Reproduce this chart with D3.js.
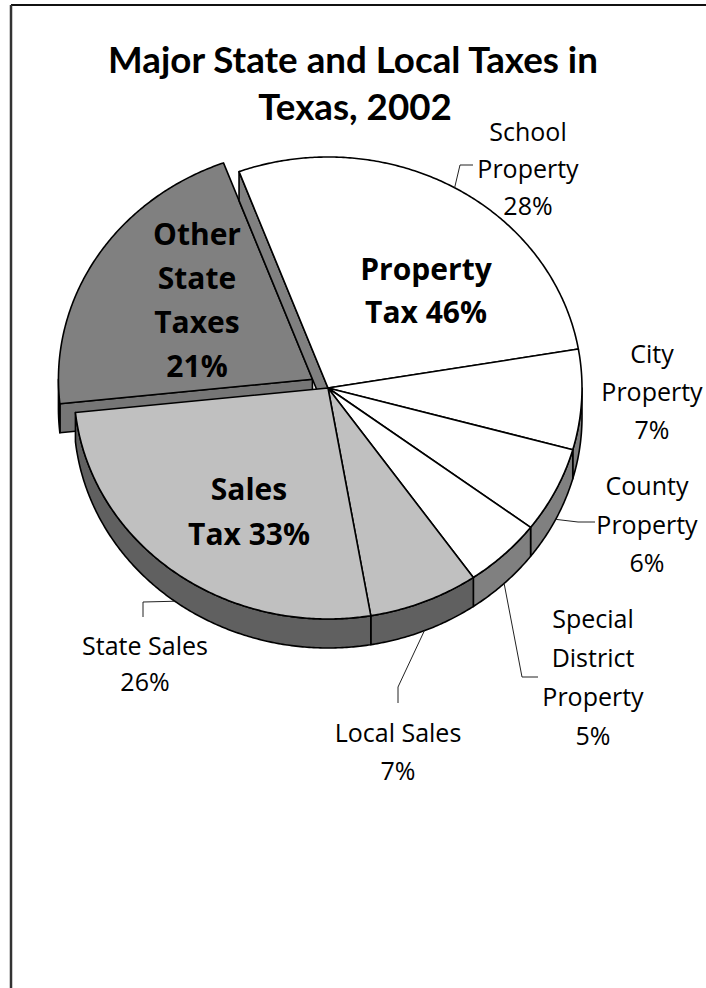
<!DOCTYPE html>
<html>
<head>
<meta charset="utf-8">
<script src="https://cdn.jsdelivr.net/npm/d3@7/dist/d3.min.js"></script>
<style>
  html, body { margin: 0; padding: 0; background: #fff; }
  svg { display: block; }
  text { font-family: "Open Sans", "Lato", sans-serif; fill: #000; }
  .title { font-family: "Lato", "Open Sans", sans-serif; font-weight: 700; }
</style>
</head>
<body>
<svg id="chart" width="706" height="988"></svg>
<script>
// ---- data -------------------------------------------------------------
const categories = ["School Property", "City Property", "County Property",
  "Special District Property", "Local Sales", "State Sales", "Other State Taxes"];
const shares = [28, 7, 6, 5, 7, 26, 21];           // percent of total
const groupOf = ["Property", "Property", "Property", "Property", "Sales", "Sales", "Other"];
const groups = ["Property", "Sales", "Other"];
const groupTitles = [["Property", "Tax"], ["Sales", "Tax"], ["Other", "State", "Taxes"]];
const sliceLabelLines = [["School", "Property"], ["City", "Property"], ["County", "Property"],
  ["Special", "District", "Property"], ["Local Sales"], ["State Sales"], null];
const titleLines = ["Major State and Local Taxes in", "Texas, 2002"];

// ---- styling / layout -------------------------------------------------
const topFill  = { Property: "#ffffff", Sales: "#c0c0c0", Other: "#808080" };
const sideFill = { Property: "#808080", Sales: "#606060", Other: "#767676" };
const explodedGroup = "Other";

const W = 706, H = 988;
const cx = 328, cy = 388, rx = 254, ry = 231, depth = 29, explode = 0.072;
const deg = Math.PI / 180;

const svg = d3.select("#chart");

// frame (top and left edges)
svg.append("line").attr("x1", 11).attr("y1", 5).attr("x2", W).attr("y2", 5)
  .attr("stroke", "#111").attr("stroke-width", 2);
svg.append("line").attr("x1", 11).attr("y1", 5).attr("x2", 11).attr("y2", H)
  .attr("stroke", "#333").attr("stroke-width", 2.5);

// ---- title (fitted to its line width) ----------------------------------
const title = svg.append("g").attr("class", "title");
const t1 = title.append("text").attr("class", "title").attr("x", 353).attr("y", 73)
  .attr("text-anchor", "middle").attr("font-size", 34).text(titleLines[0]);
const fit = 34 * 490 / t1.node().getComputedTextLength();
t1.attr("font-size", fit);
title.append("text").attr("class", "title").attr("x", 355).attr("y", 120)
  .attr("text-anchor", "middle").attr("font-size", fit).text(titleLines[1]);

// ---- pie geometry -----------------------------------------------------
const pie = d3.pie().sort(null).value(d => d)
  .startAngle(-20.5 * deg).endAngle(-20.5 * deg + 2 * Math.PI);
const arcs = pie(shares).map((a, i) => {
  const g = groupOf[i];
  const mid = (a.startAngle + a.endAngle) / 2;
  return { ...a, i, group: g, mid, off: [0, 0] };
});
// exploded group offset along its own bisector
const exArcs = arcs.filter(a => a.group === explodedGroup);
const exMid = (exArcs[0].startAngle + exArcs[exArcs.length - 1].endAngle) / 2;
const exOff = [rx * Math.sin(exMid) * explode, -ry * Math.cos(exMid) * explode];
exArcs.forEach(a => a.off = exOff);

const P = (a, off, dy = 0) => [cx + off[0] + rx * Math.sin(a), cy + off[1] - ry * Math.cos(a) + dy];
const rimPts = (a0, a1, off, dy = 0) => {
  const n = Math.max(2, Math.ceil(Math.abs(a1 - a0) / (0.5 * deg)));
  return d3.range(n + 1).map(k => P(a0 + (a1 - a0) * k / n, off, dy));
};
const line = d3.line();
const closed = pts => line(pts) + "Z";

const topPath = a => closed([[cx + a.off[0], cy + a.off[1]], ...rimPts(a.startAngle, a.endAngle, a.off)]);
// outer wall: only the front half (90°..270°) faces the viewer
function sidePath(a) {
  const lo = Math.max(a.startAngle, 90 * deg), hi = Math.min(a.endAngle, 270 * deg);
  if (hi <= lo) return null;
  return closed([...rimPts(lo, hi, a.off), ...rimPts(hi, lo, a.off, depth)]);
}
// radial cut wall at angle t
function radialPath(a, t) {
  const c = [cx + a.off[0], cy + a.off[1]], r = P(t, a.off);
  return closed([c, r, [r[0], r[1] + depth], [c[0], c[1] + depth]]);
}
// cut walls that show through the gap around the exploded group
function radialFaces(a) {
  const prev = arcs[(a.i + arcs.length - 1) % arcs.length];
  const next = arcs[(a.i + 1) % arcs.length];
  const faces = [];
  if (prev.group !== a.group && (prev.group === explodedGroup || a.group === explodedGroup)
      && Math.sin(a.startAngle) < 0) faces.push(radialPath(a, a.startAngle));
  if (next.group !== a.group && (next.group === explodedGroup || a.group === explodedGroup)
      && Math.sin(a.endAngle) > 0) faces.push(radialPath(a, a.endAngle));
  return faces;
}

function drawLayer(list) {
  const g = svg.append("g").attr("stroke", "#000").attr("stroke-width", 1.6)
    .attr("stroke-linejoin", "round");
  list.forEach(a => radialFaces(a).forEach(p =>
    g.append("path").attr("d", p).attr("fill", sideFill[a.group])));
  list.forEach(a => { const p = sidePath(a); if (p) g.append("path").attr("d", p).attr("fill", sideFill[a.group]); });
  list.forEach(a => g.append("path").attr("d", topPath(a)).attr("fill", topFill[a.group]));
}
// the exploded piece sits behind the rest of the pie
drawLayer(exArcs);
drawLayer(arcs.filter(a => a.group !== explodedGroup));

// ---- group labels (bold, inside the pie) ------------------------------
const groupTotals = groups.map(g => d3.sum(shares.filter((s, i) => groupOf[i] === g)));
const groupPos = { Property: [426, 280, 43], Sales: [249, 500, 45], Other: [197, 245, 44] };
groups.forEach((g, gi) => {
  const [x, y, lh] = groupPos[g];
  const words = groupTitles[gi].slice();
  const lines = g === "Other" ? [...words, groupTotals[gi] + "%"]
    : [words[0], words[1] + " " + groupTotals[gi] + "%"];
  const t = svg.append("text").attr("text-anchor", "middle").attr("font-weight", 700)
    .attr("font-size", 30);
  lines.forEach((s, k) => t.append("tspan").attr("x", x).attr("y", y + k * lh).text(s));
});

// ---- slice labels with leader lines ------------------------------------
// [centre x, first baseline, line height, leader elbow points]
const labelLayout = [
  { x: 528, y: 141, lh: 37, leader: [[460, 165], [473, 165]], onTop: true },
  { x: 652, y: 363, lh: 38, leader: null },
  { x: 647, y: 495, lh: 38.5, leader: [[578, 522], [595, 522]] },
  { x: 593, y: 628, lh: 39, leader: [[522, 677], [538, 677]] },
  { x: 398, y: 742, lh: 38, leader: [[398, 687], [398, 703]] },
  { x: 145, y: 655, lh: 36, leader: [[143, 602], [143, 617]] },
  null
];
const leaders = svg.append("g").attr("fill", "none").attr("stroke", "#222").attr("stroke-width", 1);
arcs.forEach(a => {
  const L = labelLayout[a.i];
  if (!L) return;
  const lines = [...sliceLabelLines[a.i], shares[a.i] + "%"];
  const t = svg.append("text").attr("text-anchor", "middle").attr("font-size", 25);
  lines.forEach((s, k) => t.append("tspan").attr("x", L.x).attr("y", L.y + k * L.lh).text(s));
  if (L.leader) {
    const start = P(a.mid, a.off, L.onTop ? 0 : depth);
    leaders.append("path").attr("d", line([start, ...L.leader]));
  }
});
</script>
</body>
</html>
